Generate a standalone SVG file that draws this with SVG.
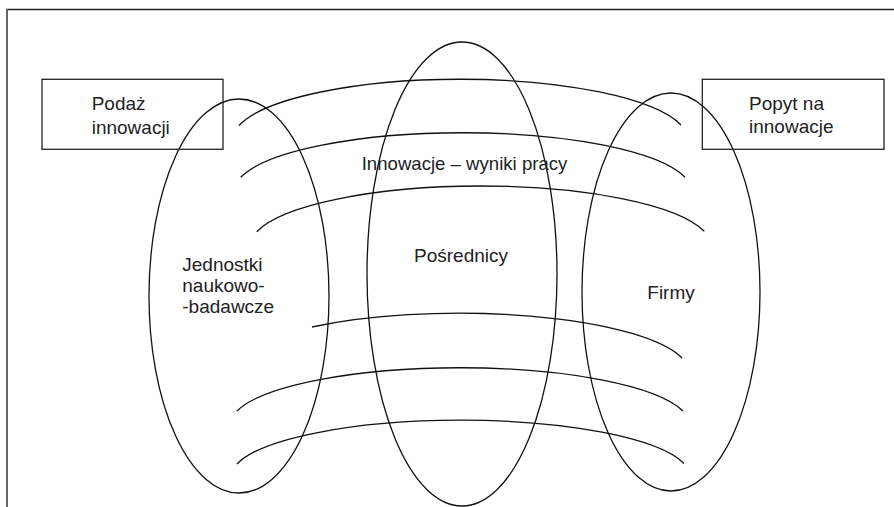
<svg xmlns="http://www.w3.org/2000/svg" width="894" height="507" viewBox="0 0 894 507">
  <style>
    .frame { fill: none; stroke-linecap: butt; }
    .box { fill: none; stroke: #222; stroke-width: 1.3; }
    .oval { fill: none; stroke: #111; stroke-width: 1.3; }
    .flow { fill: none; stroke: #111; stroke-width: 1.3; }
    .lbl { font-family: "Liberation Sans", Arial, sans-serif; font-size: 19px; fill: #222; }
  </style>
  <rect x="0" y="0" width="894" height="507" fill="#ffffff"/>

  <!-- page frame -->
  <g id="frame" class="frame">
    <line x1="6.5" y1="9.5" x2="894" y2="9.5" stroke="#222" stroke-width="1.5"/>
    <line x1="7" y1="9" x2="7" y2="507" stroke="#666" stroke-width="2"/>
  </g>

  <!-- flows of innovation between the groups -->
  <g id="connectors" class="flow">
    <path d="M 239 125.5 A 228 61 0 0 1 681 125"/>
    <path d="M 240.7 177.3 A 229 58.8 0 0 1 685 177.3"/>
    <path d="M 256.7 231.7 A 231 60.5 0 0 1 704.3 231.3"/>
    <path d="M 312 327 A 230 59.6 0 0 1 682 358"/>
    <path d="M 237 411 A 230 57.3 0 0 1 683 411"/>
    <path d="M 237 464 A 230 57 0 0 1 684 463.5"/>
  </g>

  <g id="jednostki">
    <ellipse class="oval" cx="239" cy="296" rx="90" ry="197"/>
    <text class="lbl" x="182.3" y="271">Jednostki</text>
    <text class="lbl" x="182.3" y="292">naukowo-</text>
    <text class="lbl" x="182.3" y="313.3">-badawcze</text>
  </g>

  <g id="posrednicy">
    <ellipse class="oval" cx="462" cy="274" rx="95" ry="232"/>
    <text class="lbl" x="414" y="262">Pośrednicy</text>
  </g>

  <g id="firmy">
    <ellipse class="oval" cx="671" cy="292" rx="89" ry="199"/>
    <text class="lbl" x="647.3" y="299">Firmy</text>
  </g>

  <g id="innowacje">
    <text class="lbl" x="361.7" y="170" style="font-size:18.6px">Innowacje – wyniki pracy</text>
  </g>

  <g id="podaz">
    <rect class="box" x="42" y="79.3" width="181" height="70"/>
    <text class="lbl" x="91.7" y="110">Podaż</text>
    <text class="lbl" x="91.7" y="134">innowacji</text>
  </g>

  <g id="popyt">
    <rect class="box" x="702.3" y="79.3" width="181.7" height="70"/>
    <text class="lbl" x="749" y="110">Popyt na</text>
    <text class="lbl" x="749" y="133.3">innowacje</text>
  </g>
</svg>
